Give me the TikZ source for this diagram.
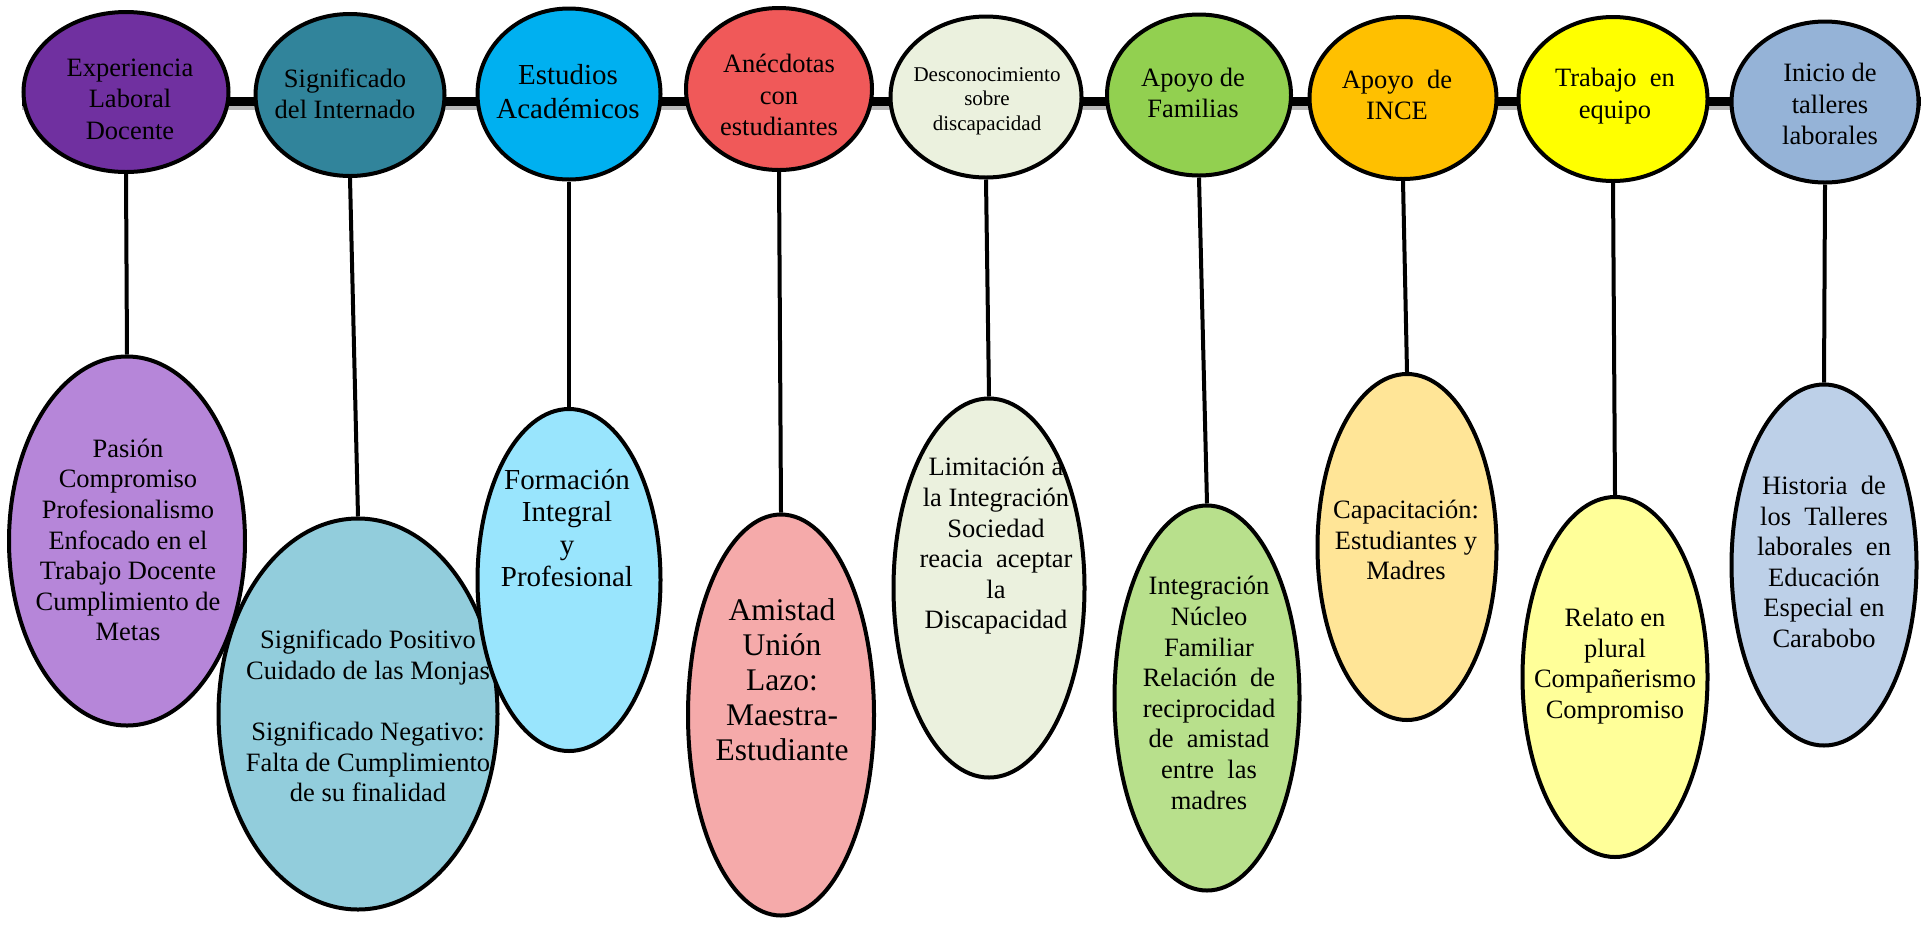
\documentclass[tikz,border=0pt]{standalone}
\usepackage{fontspec}
\setmainfont{Liberation Serif}
\usepackage{tikz}
\usetikzlibrary{shapes.geometric,backgrounds}

\definecolor{expcol}{HTML}{7030A0}
\definecolor{intcol}{HTML}{31849B}
\definecolor{estcol}{HTML}{00B0F0}
\definecolor{anecol}{HTML}{F05959}
\definecolor{descol}{HTML}{EBF1DE}
\definecolor{famcol}{HTML}{92D050}
\definecolor{incecol}{HTML}{FFC000}
\definecolor{trabcol}{HTML}{FFFF00}
\definecolor{tallcol}{HTML}{95B3D7}
\definecolor{pascol}{HTML}{B686D9}
\definecolor{sigcol}{HTML}{92CDDC}
\definecolor{forcol}{HTML}{99E5FD}
\definecolor{amicol}{HTML}{F5AAAA}
\definecolor{limcol}{HTML}{EBF1DE}
\definecolor{nuccol}{HTML}{B8E08C}
\definecolor{capcol}{HTML}{FFE597}
\definecolor{relcol}{HTML}{FFFF99}
\definecolor{hiscol}{HTML}{BDD0E8}

\begin{document}
\begin{tikzpicture}[x=1pt,y=-1pt,
  bubble/.style={ellipse,draw=black,line width=4pt,inner sep=0pt},
  oval/.style 2 args={minimum width=#1,minimum height=#2},
  lbl/.style={align=center,inner sep=0pt,font=\fontsize{26.5}{30.6}\selectfont},
  toplbl/.style={align=center,inner sep=0pt,font=\fontsize{26.5}{31.5}\selectfont},
  link/.style={line width=4pt}]
  \useasboundingbox (0,0) rectangle (1929,930);

  \node[bubble,fill=expcol,oval={205pt}{160pt}] (c1) at (126,92) {};
  \node[toplbl] (c1t) at (130,99) {Experiencia\\Laboral\\Docente};
  \node[bubble,fill=intcol,oval={189pt}{162pt}] (c2) at (350,95) {};
  \node[toplbl] (c2t) at (345,94) {Significado\\del Internado};
  \node[bubble,fill=estcol,oval={183pt}{171pt}] (c3) at (569,94) {};
  \node[toplbl,font=\fontsize{29}{34}\selectfont] (c3t) at (568,92) {Estudios\\Académicos};
  \node[bubble,fill=anecol,oval={186pt}{162pt}] (c4) at (779,89) {};
  \node[toplbl] (c4t) at (779,95) {Anécdotas\\con\\estudiantes};
  \node[bubble,fill=descol,oval={191pt}{161pt}] (c5) at (986,97) {};
  \node[toplbl,font=\fontsize{21}{24.5}\selectfont] (c5t) at (987,101) {Desconocimiento\\sobre\\discapacidad};
  \node[bubble,fill=famcol,oval={184pt}{161pt}] (c6) at (1199,95) {};
  \node[toplbl] (c6t) at (1193,93) {Apoyo de\\Familias};
  \node[bubble,fill=incecol,oval={187pt}{162pt}] (c7) at (1403,98) {};
  \node[toplbl] (c7t) at (1397,95) {Apoyo~~de\\INCE};
  \node[bubble,fill=trabcol,oval={189pt}{164pt}] (c8) at (1613,99) {};
  \node[toplbl] (c8t) at (1615,96) {Trabajo~~en\\equipo};
  \node[bubble,fill=tallcol,oval={187pt}{161pt}] (c9) at (1825,102) {};
  \node[toplbl] (c9t) at (1830,104) {Inicio de\\talleres\\laborales};

  \node[bubble,fill=pascol,oval={236pt}{369pt}] (e1) at (127,541) {};
  \node[lbl] (e1t) at (128,540) {Pasión\\Compromiso\\Profesionalismo\\Enfocado en el\\Trabajo Docente\\Cumplimiento de\\Metas};
  \node[bubble,fill=sigcol,oval={279pt}{391pt}] (e2) at (358,714) {};
  \node[lbl] (e2t) at (368,716) {Significado Positivo\\Cuidado de las Monjas\\[30.6pt]Significado Negativo:\\Falta de Cumplimiento\\de su finalidad};
  \node[bubble,fill=forcol,oval={183pt}{342pt}] (e3) at (569,580) {};
  \node[lbl,font=\fontsize{29}{32.5}\selectfont] (e3t) at (567,528) {Formación\\Integral\\y\\Profesional};
  \node[bubble,fill=amicol,oval={186pt}{401pt}] (e4) at (781,715) {};
  \node[lbl,font=\fontsize{31.5}{35}\selectfont] (e4t) at (782,680) {Amistad\\Unión\\Lazo:\\Maestra-\\Estudiante};
  \node[bubble,fill=limcol,oval={191pt}{379pt}] (e5) at (989,588) {};
  \node[lbl] (e5t) at (996,546) {Limitación a\\la Integración\\Sociedad\\reacia~~aceptar\\la\\Discapacidad};
  \node[bubble,fill=nuccol,oval={185pt}{385pt}] (e6) at (1207,698) {};
  \node[lbl] (e6t) at (1209,693) {Integración\\Núcleo\\Familiar\\Relación~~de\\reciprocidad\\de~~amistad\\entre~~las\\madres};
  \node[bubble,fill=capcol,oval={179pt}{346pt}] (e7) at (1407,547) {};
  \node[lbl] (e7t) at (1406,540) {Capacitación:\\Estudiantes y\\Madres};
  \node[bubble,fill=relcol,oval={185pt}{360pt}] (e8) at (1615,677) {};
  \node[lbl] (e8t) at (1615,666) {Relato en\\plural\\Compañerismo\\Compromiso};
  \node[bubble,fill=hiscol,oval={185pt}{361pt}] (e9) at (1824,565) {};
  \node[lbl] (e9t) at (1824,562) {Historia~~de\\los~~Talleres\\laborales~~en\\Educación\\Especial en\\Carabobo};

  \begin{scope}[on background layer]
    \draw[gray!55,line width=5pt] (c1.west |- 0,107.5) -- (c9.east |- 0,107.5);
    \draw[line width=9pt] (c1.west |- 0,101.5) -- (c9.east |- 0,101.5);
    \draw[link] (c1.south) -- (e1.north);
    \draw[link] (c2.south) -- (e2.north);
    \draw[link] (c3.south) -- (e3.north);
    \draw[link] (c4.south) -- (e4.north);
    \draw[link] (c5.south) -- (e5.north);
    \draw[link] (c6.south) -- (e6.north);
    \draw[link] (c7.south) -- (e7.north);
    \draw[link] (c8.south) -- (e8.north);
    \draw[link] (c9.south) -- (e9.north);
  \end{scope}
\end{tikzpicture}
\end{document}
